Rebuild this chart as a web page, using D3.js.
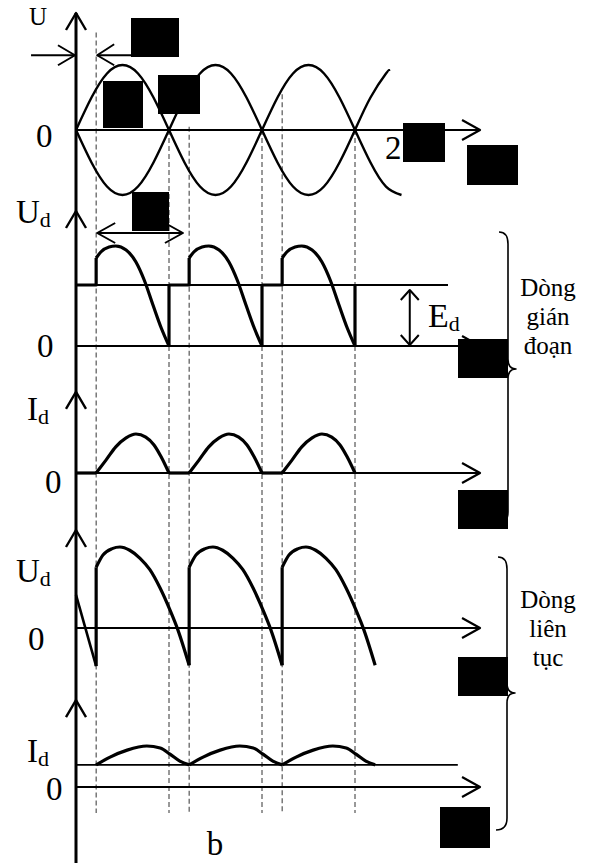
<!DOCTYPE html>
<html>
<head>
<meta charset="utf-8">
<script src="https://cdn.jsdelivr.net/npm/d3@7"></script>
<style>
  html, body { margin: 0; padding: 0; background: #fff; }
  svg { display: block; }
  text { font-family: "Liberation Serif", "Times New Roman", serif; fill: #000; }
</style>
</head>
<body>
<svg id="chart" width="592" height="863"></svg>
<script>
/*
 * Controlled rectifier waveforms with back-EMF load:
 * supply voltage, then Ud / Id for discontinuous and continuous current.
 * Angles are electrical degrees, amplitudes normalised per panel.
 */

const ALPHA = 39;
const PERIOD_STARTS = [0, 180, 360];
const DASH_ANGLES = [39, 180, 219, 360, 399, 540];
const DASH_TOPS = [1.5, 0, 0.05, 0, 0.55, 0];      // supply-panel units
const AXIS_END = 782;

// supply voltage, both half-windings
const U_PLUS = [
  [0, 0], [30, 0.5], [60, 0.87], [90, 1], [120, 0.87], [150, 0.5], [180, 0],
  [210, -0.5], [240, -0.87], [270, -1], [300, -0.87], [330, -0.5], [360, 0],
  [390, 0.5], [420, 0.87], [450, 1], [480, 0.87], [510, 0.5], [540, 0],
  [570, -0.5], [600, -0.87], [630, -1]
];
const U_MINUS = [
  [0, 0], [30, -0.5], [60, -0.87], [90, -1], [120, -0.87], [150, -0.5], [180, 0],
  [210, 0.5], [240, 0.87], [270, 1], [300, 0.87], [330, 0.5], [360, 0],
  [390, -0.5], [420, -0.87], [450, -1], [480, -0.87], [510, -0.5], [540, 0],
  [570, 0.5], [600, 0.87], [606, 0.91]
];

// discontinuous current
const E_LEVEL = 0.61;
const UD_DISC = [
  [39, 0.88], [48, 0.94], [64, 0.99], [77, 1], [97, 0.96], [116, 0.84],
  [132, 0.66], [149, 0.41], [165, 0.18], [180, 0]
];
const ID_DISC = [
  [39, 0], [58, 0.33], [77, 0.67], [97, 0.9], [116, 1], [135, 0.92],
  [151, 0.72], [165, 0.41], [180, 0]
];

// continuous current
const UD_CONT_LEAD = [[0, 0.41], [39, -0.47]];
const UD_CONT = [
  [39, 0.75], [52, 0.9], [70, 0.98], [85, 1], [104, 0.96], [124, 0.86],
  [143, 0.72], [163, 0.49], [182, 0.22], [197, -0.02], [219, -0.46]
];
const ID_CONT_MIN = 0.54;
const ID_CONT = [
  [39, 0.54], [66, 0.73], [99, 0.9], [137, 1], [163, 0.95], [182, 0.8],
  [201, 0.63], [219, 0.54]
];

// black boxes over the original symbols
const REDACTIONS = [
  [131, 18, 48, 39], [103, 81, 40, 47], [158, 75, 42, 39], [403, 123, 42, 39],
  [467, 145, 51, 40], [132, 192, 37, 39], [458, 339, 50, 39], [458, 490, 50, 39],
  [458, 657, 50, 39], [440, 807, 50, 41]
];

const svg = d3.select('#chart');

const x = d3.scaleLinear().domain([0, 720]).range([76, 448]);
const ySup = d3.scaleLinear().domain([-1, 1]).range([195, 65]);
const yUd1 = d3.scaleLinear().domain([0, 1]).range([346, 246]);
const yId1 = d3.scaleLinear().domain([0, 1]).range([473, 434]);
const yUd2 = d3.scaleLinear().domain([0, 1]).range([628, 547]);
const yId2 = d3.scaleLinear().domain([0, 1]).range([787, 746]);

const lineOn = (y, curve) => d3.line()
  .x((d) => x(d[0]))
  .y((d) => y(d[1]))
  .curve(curve || d3.curveLinear);

const shift = (pts, s) => pts.map((p) => [p[0] + s, p[1]]);

function stroke(sel, w) {
  return sel.attr('fill', 'none').attr('stroke', '#000').attr('stroke-width', w)
    .attr('stroke-linejoin', 'round').attr('stroke-linecap', 'butt');
}

function chevron(tx, ty, ax, ay, bx, by, w) {
  stroke(svg.append('path'), w || 2)
    .attr('d', `M${ax},${ay}L${tx},${ty}L${bx},${by}`);
}

/* ------------------------------------------------------------------ */
/*  Dashed guides                                                      */
/* ------------------------------------------------------------------ */

DASH_ANGLES.forEach((a, i) => {
  svg.append('line')
    .attr('x1', x(a)).attr('x2', x(a))
    .attr('y1', ySup(DASH_TOPS[i])).attr('y2', 813)
    .attr('stroke', '#333').attr('stroke-width', 1)
    .attr('stroke-dasharray', '5,3');
});

/* ------------------------------------------------------------------ */
/*  Axes                                                               */
/* ------------------------------------------------------------------ */

stroke(svg.append('line'), 3)
  .attr('x1', x(0)).attr('x2', x(0)).attr('y1', ySup(1.8)).attr('y2', 863);

[ySup(1.8), yUd1(1.35), yId1(2.08), yUd2(1.21), yId2(2.12)].forEach((ty) => {
  chevron(x(0), ty, x(0) - 10, ty + 17, x(0) + 10, ty + 17, 2.4);
});

[ySup(0), yUd1(0), yId1(0), yUd2(0), yId2(0)].forEach((ay) => {
  stroke(svg.append('line'), 2.2)
    .attr('x1', x(0)).attr('x2', x(AXIS_END)).attr('y1', ay).attr('y2', ay);
  chevron(x(AXIS_END), ay, x(AXIS_END) - 18, ay - 10, x(AXIS_END) - 18, ay + 10, 2.2);
});

// E level and minimum-current level
stroke(svg.append('line'), 2.2)
  .attr('x1', x(0)).attr('x2', x(720))
  .attr('y1', yUd1(E_LEVEL)).attr('y2', yUd1(E_LEVEL));
stroke(svg.append('line'), 1.6)
  .attr('x1', x(0)).attr('x2', x(739))
  .attr('y1', yId2(ID_CONT_MIN)).attr('y2', yId2(ID_CONT_MIN));

/* ------------------------------------------------------------------ */
/*  Waveforms                                                          */
/* ------------------------------------------------------------------ */

stroke(svg.append('path').datum(U_PLUS), 2.4).attr('d', lineOn(ySup, d3.curveNatural));
stroke(svg.append('path').datum(U_MINUS), 2.4).attr('d', lineOn(ySup, d3.curveNatural));

const W = 3.2;
const smooth = d3.curveMonotoneX;
PERIOD_STARTS.forEach((s) => {
  // Ud, discontinuous
  stroke(svg.append('path').datum([[s, E_LEVEL], [s + ALPHA, E_LEVEL], [s + ALPHA, UD_DISC[0][1]]]), W)
    .attr('d', lineOn(yUd1));
  stroke(svg.append('path').datum(shift(UD_DISC, s)), W)
    .attr('d', lineOn(yUd1, smooth));
  stroke(svg.append('path').datum([[s + 180, 0], [s + 180, E_LEVEL]]), W)
    .attr('d', lineOn(yUd1));

  // Id, discontinuous
  stroke(svg.append('path').datum([[s, 0], [s + ALPHA, 0]]), W).attr('d', lineOn(yId1));
  stroke(svg.append('path').datum(shift(ID_DISC, s)), W)
    .attr('d', lineOn(yId1, smooth));

  // Ud, continuous
  const lowBefore = s === 0 ? UD_CONT_LEAD[1][1] : UD_CONT[UD_CONT.length - 1][1];
  stroke(svg.append('path').datum([[s + ALPHA, lowBefore], [s + ALPHA, UD_CONT[0][1]]]), W)
    .attr('d', lineOn(yUd2));
  stroke(svg.append('path').datum(shift(UD_CONT, s)), W)
    .attr('d', lineOn(yUd2, smooth));

  // Id, continuous
  stroke(svg.append('path').datum(shift(ID_CONT, s)), W)
    .attr('d', lineOn(yId2, smooth));
});
stroke(svg.append('path').datum(UD_CONT_LEAD), 2.6).attr('d', lineOn(yUd2));

/* ------------------------------------------------------------------ */
/*  Annotation arrows                                                  */
/* ------------------------------------------------------------------ */

// alpha marker on supply panel
const ya = ySup(1.15);
stroke(svg.append('line'), 2).attr('x1', x(-87)).attr('x2', x(-2)).attr('y1', ya).attr('y2', ya);
chevron(x(-2), ya, x(-2) - 17, ya - 10, x(-2) - 17, ya + 10, 2);
stroke(svg.append('line'), 2).attr('x1', x(ALPHA + 2)).attr('x2', x(112)).attr('y1', ya).attr('y2', ya);
chevron(x(ALPHA + 2), ya, x(ALPHA + 2) + 17, ya - 11, x(ALPHA + 2) + 17, ya + 10, 2);

// conduction interval on Ud panel
const yc = yUd1(1.13);
stroke(svg.append('line'), 2).attr('x1', x(41)).attr('x2', x(207)).attr('y1', yc).attr('y2', yc);
chevron(x(41), yc, x(41) + 18, yc - 10, x(41) + 18, yc + 10, 2);
chevron(x(207), yc, x(207) - 18, yc - 10, x(207) - 18, yc + 10, 2);

// E_d double arrow
const xe = x(646);
stroke(svg.append('line'), 2).attr('x1', xe).attr('x2', xe)
  .attr('y1', yUd1(E_LEVEL - 0.05)).attr('y2', yUd1(0.01));
chevron(xe, yUd1(E_LEVEL - 0.05), xe - 9, yUd1(E_LEVEL - 0.15), xe + 9, yUd1(E_LEVEL - 0.15), 2);
chevron(xe, yUd1(0.01), xe - 9, yUd1(0.11), xe + 9, yUd1(0.11), 2);

/* ------------------------------------------------------------------ */
/*  Labels                                                             */
/* ------------------------------------------------------------------ */

function label(tx, ty, main, sub, size) {
  const t = svg.append('text').attr('x', tx).attr('y', ty)
    .attr('font-size', size || 33).text(main);
  if (sub) t.append('tspan').attr('font-size', 22).attr('dy', 4).text(sub);
  return t;
}

label(29, 25, 'U', null, 25);
label(36, 147, '0');
label(385, 159, '2');
label(16, 223, 'U', 'd');
label(37, 357, '0');
label(428, 327, 'E', 'd', 34);
label(27, 420, 'I', 'd');
label(45, 493, '0');
label(16, 582, 'U', 'd');
label(28, 650, '0');
label(27, 762, 'I', 'd');
label(46, 800, '0');
svg.append('text').attr('x', 215).attr('y', 855).attr('font-size', 33)
  .attr('text-anchor', 'middle').text('b');

function block(lines, top) {
  lines.forEach((s, i) => {
    svg.append('text').attr('x', 548).attr('y', top + i * 29)
      .attr('font-size', 25).attr('text-anchor', 'middle').text(s);
  });
}
block(['Dòng', 'gián', 'đoạn'], 296);
block(['Dòng', 'liên', 'tục'], 608);

/* ------------------------------------------------------------------ */
/*  Braces                                                             */
/* ------------------------------------------------------------------ */

function brace(bx, top, mid, bottom) {
  const d = `M${bx - 9},${top} Q${bx},${top} ${bx},${top + 12}`
    + ` L${bx},${mid - 10} Q${bx},${mid} ${bx + 8},${mid}`
    + ` Q${bx},${mid} ${bx},${mid + 10}`
    + ` L${bx},${bottom - 12} Q${bx},${bottom} ${bx - 11},${bottom}`;
  stroke(svg.append('path'), 1.6).attr('d', d);
}
brace(508, 232, 369, 524);
brace(507, 557, 693, 830);

/* ------------------------------------------------------------------ */
/*  Redaction boxes                                                    */
/* ------------------------------------------------------------------ */

svg.selectAll('rect.redact').data(REDACTIONS).join('rect')
  .attr('class', 'redact')
  .attr('x', (d) => d[0]).attr('y', (d) => d[1])
  .attr('width', (d) => d[2]).attr('height', (d) => d[3])
  .attr('fill', '#000');
</script>
</body>
</html>
